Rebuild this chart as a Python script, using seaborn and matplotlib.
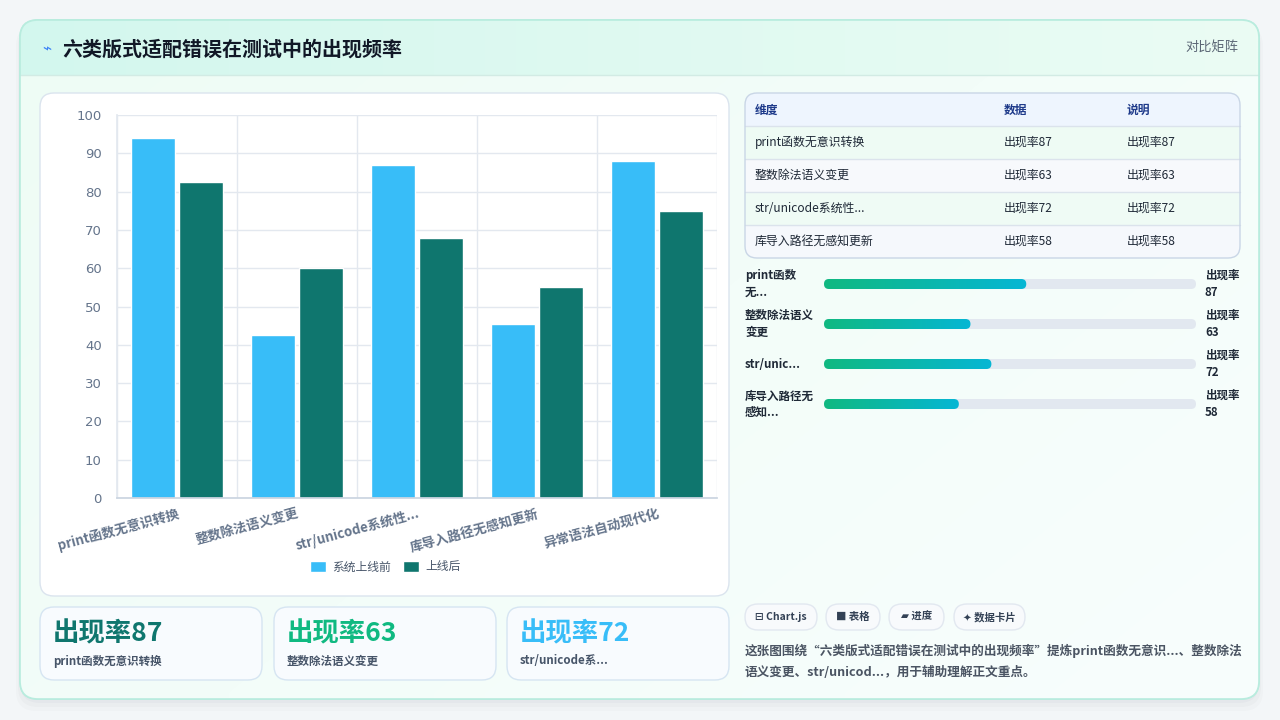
import numpy as np
import pandas as pd
import matplotlib
matplotlib.use("Agg")
import matplotlib.pyplot as plt
import seaborn as sns
from matplotlib.patches import FancyBboxPatch, Rectangle
from matplotlib.transforms import blended_transform_factory

# data
categories = ["print函数无意识转换", "整数除法语义变更", "str/unicode系统性...", "库导入路径无感知更新", "异常语法自动现代化"]
series = ["系统上线前", "上线后"]
before_values = [94, 42.5, 87, 45.5, 88]
after_values = [82.5, 60, 68, 55, 75]

table_dims = ["print函数无意识转换", "整数除法语义变更", "str/unicode系统性...", "库导入路径无感知更新"]
rates = [87, 63, 72, 58]
progress_labels = ["print函数\n无...", "整数除法语义\n变更", "str/unic...", "库导入路径无\n感知..."]
progress_max = 160
card_labels = ["print函数无意识转换", "整数除法语义变更", "str/unicode系..."]
chips = ["⊟ Chart.js", "■ 表格", "▰ 进度", "✦ 数据卡片"]

BLUE = "#38bdf8"
TEAL = "#0f766e"
GREEN = "#10b981"
GRID = "#e3e8ef"
DARK = "#1f2937"
MUTED = "#64748b"

sns.set_theme(style="white")
plt.rcParams['font.family'] = ['Noto Sans CJK SC', 'DejaVu Sans']

W, H = 1280, 720
fig = plt.figure(figsize=(12.8, 7.2), dpi=100, facecolor="#f3f6f8")

# pixel canvas for the page
bg = fig.add_axes([0, 0, 1, 1], zorder=0)
bg.set_xlim(0, W)
bg.set_ylim(H, 0)
bg.axis("off")


def rbox(x, y, w, h, r, fc, ec="none", lw=1, z=1, alpha=1):
    p = FancyBboxPatch((x, y), w, h, boxstyle=f"round,pad=0,rounding_size={r}",
                       fc=fc, ec=ec, lw=lw, zorder=z, alpha=alpha)
    bg.add_patch(p)
    return p


def gradient(extent, c0, c1, clip, z, diag=True):
    ny, nx = 60, 200
    xs = np.linspace(0, 1, nx)[None, :]
    ys = np.linspace(0, 1, ny)[:, None]
    t = (xs * 0.6 + ys * 0.4) if diag else np.repeat(xs, ny, axis=0)
    c0 = np.array(matplotlib.colors.to_rgb(c0))
    c1 = np.array(matplotlib.colors.to_rgb(c1))
    img = c0[None, None, :] * (1 - t[..., None]) + c1[None, None, :] * t[..., None]
    im = bg.imshow(img, extent=extent, origin="upper", aspect="auto", zorder=z, interpolation="bilinear")
    im.set_clip_path(clip)


# outer card with soft shadow
for i, a in enumerate([0.025, 0.02, 0.015]):
    rbox(20 - i * 2, 24 + i, 1239 + i * 4, 679 + i * 3, 20, "#0f172a", z=0.5, alpha=a)
card = rbox(20, 20, 1239, 679, 18, "#f4fdf9", ec="#b8ecde", lw=1.2, z=1)
gradient((20, 1259, 699, 20), "#eefcf5", "#f8fefd", card, 1.1)
gradient((20, 1259, 75, 20), "#d3f7ee", "#ebfcf4", card, 1.2, diag=False)
bg.plot([20, 1259], [75, 75], color="#d2ebe4", lw=1, zorder=1.3)
rbox(20, 20, 1239, 679, 18, "none", ec="#b8ecde", lw=1.2, z=1.4)

bg.text(42, 49, "⌁", fontsize=11, color="#3b82f6", va="center", ha="left", zorder=3,
        family=['DejaVu Sans'])
bg.text(62, 49, "六类版式适配错误在测试中的出现频率", fontsize=14.4, weight="bold",
        color="#111827", va="center", ha="left", zorder=3)
bg.text(1238, 48, "对比矩阵", fontsize=9.5, color="#5b6675", va="center", ha="right", zorder=3)

# chart panel
rbox(40, 93, 689, 503, 14, "white", ec="#dbe4ee", lw=1, z=2)

df = pd.DataFrame({
    "类别": categories * 2,
    "系列": [series[0]] * len(categories) + [series[1]] * len(categories),
    "出现频率": before_values + after_values,
})

ax = fig.add_axes([117 / W, 1 - 498 / H, 600 / W, 383 / H], zorder=3)
ax.set_facecolor("none")
sns.barplot(data=df, x="类别", y="出现频率", hue="系列", palette=[BLUE, TEAL],
            width=0.8, gap=0.1, saturation=1, ax=ax)
ax.set_xlim(-0.5, len(categories) - 0.5)
ax.set_ylim(0, 100)
ax.set_yticks(range(0, 101, 10))
ax.set_xticks(np.arange(-0.5, len(categories), 1), minor=True)
ax.grid(axis="y", which="major", color=GRID, lw=1)
ax.grid(axis="x", which="minor", color=GRID, lw=1)
ax.set_axisbelow(True)
ax.tick_params(axis="y", length=8, color=GRID, labelsize=9.5, labelcolor=MUTED, pad=3)
ax.tick_params(axis="x", which="major", length=0, pad=6)
ax.tick_params(axis="x", which="minor", length=8, color=GRID)
for lab in ax.get_yticklabels():
    lab.set_family(['Liberation Sans Narrow', 'DejaVu Sans'])
ax.set_xticks(range(len(categories)))
ax.set_xticklabels(categories, rotation=15, ha="right", rotation_mode="anchor",
                   fontsize=9.5, color=MUTED, weight="bold")
for s in ["top", "right"]:
    ax.spines[s].set_visible(False)
ax.spines["left"].set_color(GRID)
ax.spines["bottom"].set_color("#cbd5e1")
ax.set_xlabel("")
ax.set_ylabel("")
ax.legend(loc="center", bbox_to_anchor=(0.447, -0.18), ncol=2, frameon=False,
          fontsize=8.5, handlelength=1.4, handleheight=1.1, columnspacing=1.0,
          handletextpad=0.5, labelcolor="#475569")

# summary cards
card_x = [40, 274, 507]
card_colors = [TEAL, GREEN, BLUE]
for x, r, lab, c in zip(card_x, rates[:3], card_labels, card_colors):
    rbox(x, 607, 222, 73, 14, "#f8fbfe", ec="#d6e5f2", lw=1, z=2)
    bg.text(x + 13, 634, f"出现率{r}", fontsize=19, weight="heavy", color=c,
            va="center", ha="left", zorder=3)
    bg.text(x + 13, 661, lab, fontsize=8.3, weight="bold", color="#475569",
            va="center", ha="left", zorder=3)

# table
tbl = rbox(745, 93, 495, 165, 12, "#f8fafc", ec="none", z=2)
row_fc = ["#eefbf4", "#f7f9fc", "#effbf5", "#f5f8fc"]
hdr_rect = Rectangle((745, 93), 495, 33, fc="#eef5fe", ec="none", zorder=2.1)
bg.add_patch(hdr_rect)
hdr_rect.set_clip_path(tbl)
for i, fc in enumerate(row_fc):
    rr = Rectangle((745, 126 + 33 * i), 495, 33, fc=fc, ec="none", zorder=2.1)
    bg.add_patch(rr)
    rr.set_clip_path(tbl)
    bg.plot([745, 1240], [126 + 33 * i, 126 + 33 * i], color="#dbe3ec", lw=1, zorder=2.2)
rbox(745, 93, 495, 165, 12, "none", ec="#c9d6e6", lw=1, z=2.3)
for x, h in zip([755, 1004, 1127], ["维度", "数据", "说明"]):
    bg.text(x, 110, h, fontsize=8.5, weight="bold", color="#1e3a8a", va="center", zorder=3)
for i, (d, r) in enumerate(zip(table_dims, rates)):
    y = 142.5 + 33 * i
    bg.text(755, y, d, fontsize=8.6, color=DARK, va="center", zorder=3)
    bg.text(1004, y, f"出现率{r}", fontsize=8.6, color=DARK, va="center", zorder=3)
    bg.text(1127, y, f"出现率{r}", fontsize=8.6, color=DARK, va="center", zorder=3)

# progress bars
pax = fig.add_axes([824 / W, 1 - 424 / H, 372 / W, 160 / H], zorder=3)
pax.axis("off")
bar_h = 0.25
xpp = progress_max / 372
ypp = 4 / 160
asp = ypp / xpp
grad_cmap = matplotlib.colors.LinearSegmentedColormap.from_list("g", [GREEN, "#06b6d4"])
trans = blended_transform_factory(pax.transAxes, pax.transData)
for i, (r, lab) in enumerate(zip(rates, progress_labels)):
    track = FancyBboxPatch((0, i - bar_h / 2), progress_max, bar_h,
                           boxstyle=f"round,pad=0,rounding_size={5 * xpp}",
                           mutation_aspect=asp, fc="#e2e8f0", ec="none", zorder=1)
    pax.add_patch(track)
    fill = FancyBboxPatch((0, i - bar_h / 2), r, bar_h,
                          boxstyle=f"round,pad=0,rounding_size={5 * xpp}",
                          mutation_aspect=asp, fc="none", ec="none", zorder=2)
    pax.add_patch(fill)
    im = pax.imshow(np.linspace(0, 1, 100)[None, :], cmap=grad_cmap, aspect="auto",
                    extent=(0, r, i + bar_h / 2, i - bar_h / 2), zorder=2)
    im.set_clip_path(fill)
    pax.text(-0.212, i, lab, transform=trans, fontsize=8.3, weight="bold", color=DARK,
             va="center", ha="left", linespacing=1.35)
    pax.text(1.024, i, f"出现率\n{r}", transform=trans, fontsize=8.3, weight="bold",
             color=DARK, va="center", ha="left", linespacing=1.35)
pax.set_xlim(0, progress_max)
pax.set_ylim(len(rates) - 0.5, -0.5)

# chips
chip_x = [745, 826, 889, 954]
chip_w = [72, 54, 55, 71]
for x, w, t in zip(chip_x, chip_w, chips):
    rbox(x, 604, w, 26, 13, "#f8fafc", ec="#e2e8f0", lw=1, z=2)
    bg.text(x + w / 2, 617, t, fontsize=7.5, weight="bold", color="#334155",
            va="center", ha="center", zorder=3)

desc1 = "这张图围绕“六类版式适配错误在测试中的出现频率”提炼print函数无意识...、整数除法"
desc2 = "语义变更、str/unicod...，用于辅助理解正文重点。"
bg.text(745, 651, desc1, fontsize=9.1, weight="bold", color="#4b5563", va="center", zorder=3)
bg.text(745, 672, desc2, fontsize=9.1, weight="bold", color="#4b5563", va="center", zorder=3)

fig.savefig("out.png", dpi=100, facecolor=fig.get_facecolor())
